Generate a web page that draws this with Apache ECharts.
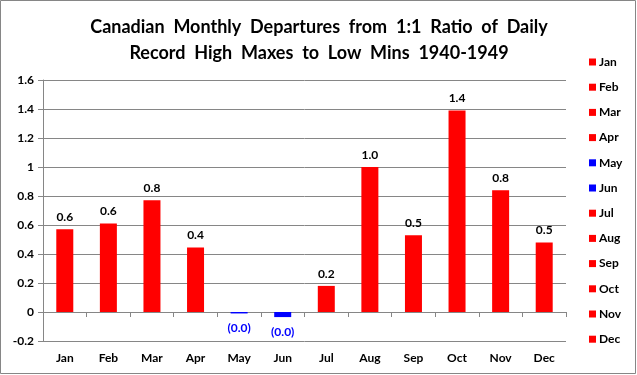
<!DOCTYPE html>
<html>
<head>
<meta charset="utf-8">
<script src="https://cdn.jsdelivr.net/npm/echarts@6/dist/echarts.min.js"></script>
<style>
html,body{margin:0;padding:0;background:#fff;}
#chart{width:637px;height:375px;}
</style>
</head>
<body>
<div id="chart"></div>
<script>
var months = ['Jan','Feb','Mar','Apr','May','Jun','Jul','Aug','Sep','Oct','Nov','Dec'];
var departures = [0.57, 0.61, 0.77, 0.445, -0.01, -0.035, 0.18, 1.0, 0.53, 1.39, 0.84, 0.48];
var titleLines = ['Canadian  Monthly  Departures  from  1:1  Ratio  of  Daily', 'Record  High  Maxes  to  Low  Mins  1940-1949'];
var yMin = -0.2, yMax = 1.6, yStep = 0.2;

var FONT = 'Lato';
function fmtLabel(v){ return v < 0 ? '(' + Math.abs(v).toFixed(1) + ')' : v.toFixed(1); }

var series = months.map(function(m, i){
  var v = departures[i];
  var neg = v < 0;
  var data = months.map(function(_, j){ return j === i ? v : '-'; });
  return {
    name: m,
    type: 'bar',
    stack: 'all',
    barWidth: 17,
    xAxisIndex: 0,
    itemStyle: { color: neg ? '#0000FF' : '#FF0000' },
    label: {
      show: true,
      position: neg ? 'bottom' : 'top',
      distance: neg ? 9 : 6,
      fontFamily: FONT, fontWeight: 'bold', fontSize: 12,
      color: neg ? '#0000FF' : '#000000',
      formatter: function(p){ return fmtLabel(p.value); }
    },
    data: data
  };
});

var chart = echarts.init(document.getElementById('chart'));
chart.setOption({
  animation: false,
  title: {
    text: titleLines.join('\n'),
    left: 314, top: 9, textAlign: 'center',
    textStyle: { fontFamily: FONT, fontWeight: 'bold', fontSize: 18, lineHeight: 26, color: '#000' }
  },
  legend: {
    orient: 'vertical',
    left: 584, top: 50,
    itemWidth: 7, itemHeight: 7, itemGap: 11.2,
    icon: 'rect',
    data: months,
    textStyle: { fontFamily: FONT, fontWeight: 'bold', fontSize: 12, lineHeight: 14, color: '#000', padding: [0,0,0,-2] }
  },
  grid: { left: 43, right: 71, top: 80, bottom: 34 },
  xAxis: [{
    type: 'category', data: months,
    axisLine: { onZero: true, lineStyle: { color: '#868686' } },
    axisTick: { show: true, length: 5, lineStyle: { color: '#868686' } },
    axisLabel: { show: false }
  }, {
    type: 'category', data: months, position: 'bottom',
    axisLine: { show: false, onZero: false },
    axisTick: { show: false },
    axisLabel: { fontFamily: FONT, fontWeight: 'bold', fontSize: 12, color: '#000', margin: 11 }
  }],
  yAxis: {
    type: 'value', min: yMin, max: yMax, interval: yStep,
    axisLine: { show: true, lineStyle: { color: '#868686' } },
    axisTick: { show: true, length: 5, lineStyle: { color: '#868686' } },
    splitLine: { lineStyle: { color: '#868686' } },
    axisLabel: { fontFamily: FONT, fontWeight: 'bold', fontSize: 12, color: '#000', margin: 9,
      formatter: function(v){ return String(Math.round(v * 10) / 10); } }
  },
  graphic: [{
    type: 'rect', shape: { x: 0.5, y: 0.5, width: 635, height: 373 },
    style: { fill: 'none', stroke: '#868686', lineWidth: 1 }, silent: true
  }],
  series: series
});
</script>
</body>
</html>
